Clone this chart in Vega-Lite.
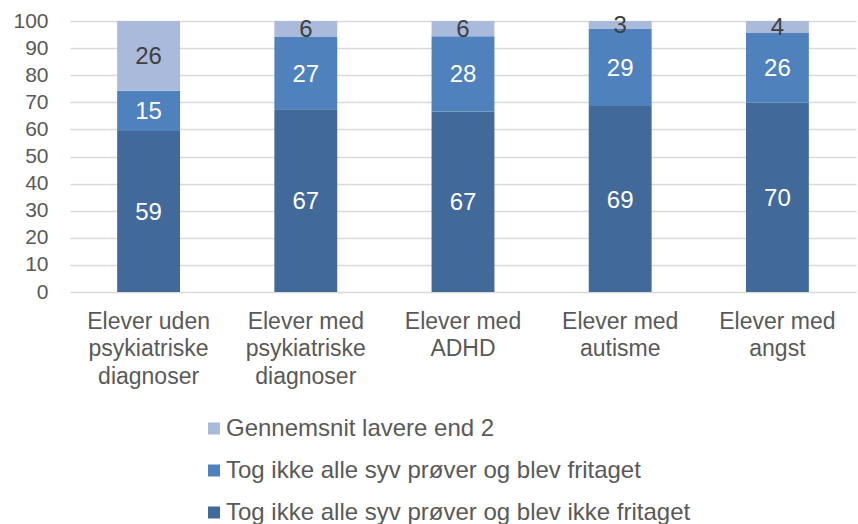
{
  "$schema": "https://vega.github.io/schema/vega-lite/v6.json",
  "autosize": "none",
  "width": 786,
  "height": 271,
  "padding": {"left": 70, "top": 21, "right": 2, "bottom": 232},
  "background": "white",
  "data": {"values": [
    {"grp": "Elever uden|psykiatriske|diagnoser", "serie": "Tog ikke alle syv prøver og blev ikke fritaget", "ord": 1, "v": 59.4},
    {"grp": "Elever uden|psykiatriske|diagnoser", "serie": "Tog ikke alle syv prøver og blev fritaget", "ord": 2, "v": 14.9},
    {"grp": "Elever uden|psykiatriske|diagnoser", "serie": "Gennemsnit lavere end 2", "ord": 3, "v": 25.7},
    {"grp": "Elever med|psykiatriske|diagnoser", "serie": "Tog ikke alle syv prøver og blev ikke fritaget", "ord": 1, "v": 67.4},
    {"grp": "Elever med|psykiatriske|diagnoser", "serie": "Tog ikke alle syv prøver og blev fritaget", "ord": 2, "v": 26.7},
    {"grp": "Elever med|psykiatriske|diagnoser", "serie": "Gennemsnit lavere end 2", "ord": 3, "v": 5.9},
    {"grp": "Elever med|ADHD", "serie": "Tog ikke alle syv prøver og blev ikke fritaget", "ord": 1, "v": 66.6},
    {"grp": "Elever med|ADHD", "serie": "Tog ikke alle syv prøver og blev fritaget", "ord": 2, "v": 27.8},
    {"grp": "Elever med|ADHD", "serie": "Gennemsnit lavere end 2", "ord": 3, "v": 5.6},
    {"grp": "Elever med|autisme", "serie": "Tog ikke alle syv prøver og blev ikke fritaget", "ord": 1, "v": 68.6},
    {"grp": "Elever med|autisme", "serie": "Tog ikke alle syv prøver og blev fritaget", "ord": 2, "v": 28.6},
    {"grp": "Elever med|autisme", "serie": "Gennemsnit lavere end 2", "ord": 3, "v": 2.8},
    {"grp": "Elever med|angst", "serie": "Tog ikke alle syv prøver og blev ikke fritaget", "ord": 1, "v": 69.9},
    {"grp": "Elever med|angst", "serie": "Tog ikke alle syv prøver og blev fritaget", "ord": 2, "v": 25.7},
    {"grp": "Elever med|angst", "serie": "Gennemsnit lavere end 2", "ord": 3, "v": 4.4}
  ]},
  "transform": [
    {"stack": "v", "groupby": ["grp"], "sort": [{"field": "ord"}], "as": ["y0", "y1"]},
    {"calculate": "(datum.y0 + datum.y1) / 2", "as": "ymid"}
  ],
  "config": {
    "view": {"stroke": null},
    "font": "Liberation Sans"
  },
  "encoding": {
    "x": {
      "field": "grp", "type": "nominal", "sort": null, "title": null,
      "scale": {"paddingInner": 0.6, "paddingOuter": 0.3},
      "axis": {"labelAngle": 0, "labelExpr": "split(datum.label, '|')", "labelLineHeight": 27.5, "labelPadding": 18, "ticks": false, "domain": false, "labelBaseline": "top", "labelFont": "Liberation Sans", "labelFontSize": 23, "labelColor": "#595959"}
    },
    "y": {
      "field": "y0", "type": "quantitative", "scale": {"domain": [0, 100]}, "title": null,
      "axis": {"values": [0, 10, 20, 30, 40, 50, 60, 70, 80, 90, 100], "labelOverlap": false, "grid": true, "gridColor": "#d9d9d9", "gridWidth": 1.3, "domain": false, "ticks": false, "labelPadding": 22, "labelFont": "Liberation Sans", "labelFontSize": 21, "labelColor": "#595959"}
    }
  },
  "layer": [
    {
      "mark": {"type": "bar"},
      "encoding": {
        "y2": {"field": "y1"},
        "color": {
          "field": "serie", "type": "nominal", "title": null,
          "scale": {
            "domain": ["Gennemsnit lavere end 2", "Tog ikke alle syv prøver og blev fritaget", "Tog ikke alle syv prøver og blev ikke fritaget"],
            "range": ["#a9badb", "#4f81bd", "#416a9b"]
          },
          "legend": {
            "orient": "none", "legendX": 132, "legendY": 395.5, "direction": "vertical",
            "symbolType": "square", "symbolSize": 144, "symbolStrokeWidth": 0,
            "labelFontSize": 24, "labelColor": "#595959", "labelFont": "Liberation Sans",
            "rowPadding": 18, "labelOffset": 0, "labelLimit": 700
          }
        }
      }
    },
    {
      "mark": {"type": "text", "fontSize": 24, "font": "Liberation Sans", "baseline": "middle", "dy": 1.5},
      "encoding": {
        "y": {"field": "ymid", "type": "quantitative", "title": null},
        "text": {"field": "v", "type": "quantitative", "format": ".0f"},
        "color": {
          "condition": {"test": "datum.ord == 3", "value": "#404040"},
          "value": "#ffffff"
        }
      }
    }
  ]
}
